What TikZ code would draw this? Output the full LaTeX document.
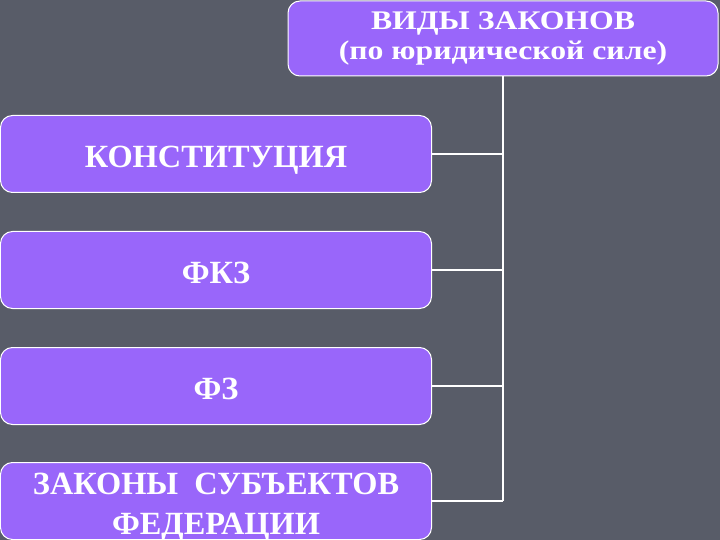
\documentclass[tikz,border=0pt]{standalone}
\usepackage{fontspec}
\setmainfont{Liberation Serif}
\newfontfamily\headfont[FakeStretch=1.18]{Liberation Serif}

\definecolor{slidebg}{RGB}{88,92,104}
\definecolor{boxviolet}{RGB}{153,102,250}

\tikzset{
    lawbox/.style={draw=white, line width=1bp, fill=boxviolet, rounded corners=12bp,
        minimum width=431bp, minimum height=77bp, inner sep=0pt, align=center,
        text=white, text height=27.5bp, text depth=0bp,
        font=\bfseries\fontsize{32.5}{40}\selectfont},
    headbox/.style={lawbox, minimum width=430bp, minimum height=75bp,
        text height=, text depth=,
        font=\headfont\bfseries\fontsize{27}{30}\selectfont},
    link/.style={draw=white, line width=2bp}
}

\begin{document}
\begin{tikzpicture}[x=1bp, y=-1bp]

    % Slide background
    \fill[slidebg] (0,0) rectangle (720,540);
    \useasboundingbox (0,0) rectangle (720,540);

    % Heading box
    \node[headbox] (types) at (503, 38.5) {ВИДЫ ЗАКОНОВ\\(по юридической силе)};

    % Kinds of laws
    \node[lawbox] (constitution) at (216, 154) {КОНСТИТУЦИЯ};
    \node[lawbox] (fkz) at (216, 270) {ФКЗ};
    \node[lawbox] (fz) at (216, 386) {ФЗ};
    \node[lawbox, text height=66.5bp] (regional) at (216, 501) {ЗАКОНЫ\ \ СУБЪЕКТОВ\\ФЕДЕРАЦИИ};

    % Tree lines
    \draw[link] (types.south) -- (types.south |- regional.east);
    \foreach \kind in {constitution, fkz, fz, regional}
        \draw[link] (\kind.east) -- (\kind.east -| types.south);

\end{tikzpicture}
\end{document}
